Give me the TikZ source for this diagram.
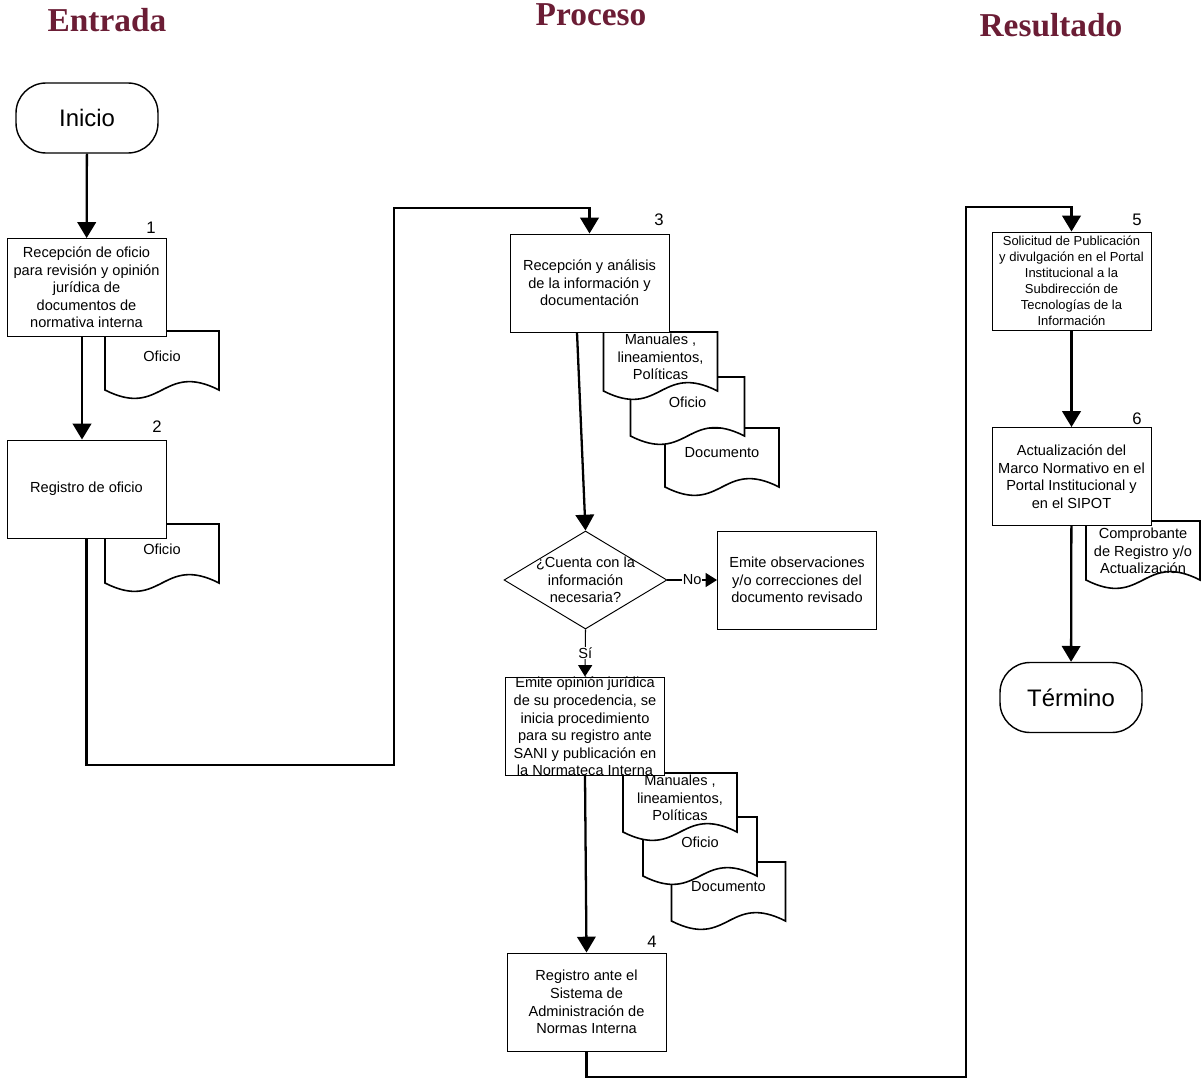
\documentclass[tikz,border=0pt]{standalone}
\usepackage{fontspec}
\setmainfont{Liberation Sans}
\newfontfamily\titlefont{Liberation Serif}
\usetikzlibrary{arrows.meta,shapes.geometric}
\definecolor{vino}{HTML}{6B1D35}

\begin{document}
\begin{tikzpicture}[x=0.02cm,y=-0.02cm,
    title/.style={font=\titlefont\bfseries\fontsize{19}{22}\selectfont, text=vino, anchor=base},
    term/.style={draw, line width=0.8pt, rounded corners=0.6cm, minimum width=2.84cm, minimum height=1.4cm, font=\fontsize{13.6}{16}\selectfont},
    box/.style={draw, line width=0.55pt, fill=white, minimum width=3.18cm, minimum height=1.96cm, align=center, inner sep=0pt, font=\fontsize{8.3}{10}\selectfont},
    txt/.style={align=center, inner sep=0pt, font=\fontsize{8.3}{10}\selectfont},
    num/.style={font=\fontsize{9.5}{11}\selectfont, inner sep=0pt},
    decision/.style={draw, diamond, line width=0.55pt, fill=white, minimum width=3.26cm, minimum height=1.96cm, inner sep=0pt},
    arr/.style={line width=1.3pt, -{Triangle[length=9pt,width=10.5pt]}},
    doctext/.style={},
    docu/.pic={
      \filldraw[fill=white, line width=0.9pt] (-57,0) -- (57,0) -- (57,59) .. controls (0,30) and (0,88) .. (-57,59) -- cycle;
      \node[txt, doctext] (-t) at (0,25) {#1};
    }
  ]
    \useasboundingbox (0,0) rectangle (1201,1078);

    \node[title] (tin) at (107,32) {Entrada};
    \node[title] (tpr) at (591,26) {Proceso};
    \node[title] (tre) at (1051,37) {Resultado};

    \pic (do1) at (162,331) {docu={Oficio}};
    \pic (do2) at (162,524) {docu={Oficio}};
    \pic (dC) at (722,428) {docu={Documento}};
    \pic (dB) at (687.5,377) {docu={Oficio}};
    \pic (dA) at (660.5,332) {docu={Manuales ,\\lineamientos,\\Políticas}};
    \pic (dC2) at (728.5,862) {docu={Documento}};
    \pic (dB2) at (700,817) {docu={Oficio}};
    \pic (dA2) at (680,773) {docu={Manuales ,\\lineamientos,\\Políticas}};
    \pic[doctext/.style={yshift=-0.1cm}] (dR) at (1143,521) {docu={Comprobante\\de Registro y/o\\Actualización}};

    \node[term] (ini) at (87,118) {Inicio};
    \node[box] (b1) at (86.5,287.5) {Recepción de oficio\\para revisión y opinión\\jurídica de\\documentos de\\normativa interna};
    \node[box] (b2) at (86.5,489) {Registro de oficio};
    \node[box] (b3) at (589.5,283) {Recepción y análisis\\de la información y\\documentación};
    \node[decision] (q) at (585.5,580) {};
    \node[txt] (qt) at (q) {¿Cuenta con la\\información\\necesaria?};
    \node[box] (obs) at (797,580) {Emite observaciones\\y/o correcciones del\\documento revisado};
    \node[box] (op) at (585,726) {};
    \node[txt] (opt) at (585,726.5) {Emite opinión jurídica\\de su procedencia, se\\inicia procedimiento\\para su registro ante\\SANI y publicación en\\la Normateca Interna};
    \node[box] (b4) at (586.5,1002) {Registro ante el\\Sistema de\\Administración de\\Normas Interna};
    \node[box, font=\fontsize{7.4}{9.1}\selectfont] (b5) at (1071.5,281) {Solicitud de Publicación\\y divulgación en el Portal\\Institucional a la\\Subdirección de\\Tecnologías de la\\Información};
    \node[box] (b6) at (1071.5,476.5) {Actualización del\\Marco Normativo en el\\Portal Institucional y\\en el SIPOT};
    \node[term] (fin) at (1071,697.5) {Término};

    \node[num] (n1) at (151,228) {1};
    \node[num] (n2) at (157,427) {2};
    \node[num] (n3) at (659,220) {3};
    \node[num] (n4) at (652,942) {4};
    \node[num] (n5) at (1137,220) {5};
    \node[num] (n6) at (1137,419) {6};

    \coordinate (c1) at (394,765);
    \coordinate (c2) at (589.5,208);
    \coordinate (c3) at (966,1077);
    \coordinate (c4) at (1071.5,207);

    \draw[arr] (ini) -- (b1);
    \draw[arr] ([xshift=-0.09cm]b1.south) -- ([xshift=-0.09cm]b2.north);
    \draw[arr] (b2.south) |- (c1) |- (c2) -- (b3.north);
    \draw[arr] ([xshift=-0.25cm]b3.south) -- (q.north);
    \draw[line width=0.6pt, -{Triangle[length=6.5pt,width=8pt]}] (q.east) -- node[txt, fill=white, inner sep=0.5pt] (no) {No} (obs.west);
    \draw[line width=0.6pt, -{Triangle[length=6.5pt,width=8pt]}] (q.south) -- node[txt, fill=white, inner sep=0.5pt] (si) {Sí} (op.north);
    \draw[arr] (op.south) -- (b4.north);
    \draw[arr] (b4.south) |- (c3) |- (c4) -- (b5.north);
    \draw[arr] (b5) -- (b6);
    \draw[arr] (b6) -- (fin);
  \end{tikzpicture}
\end{document}
